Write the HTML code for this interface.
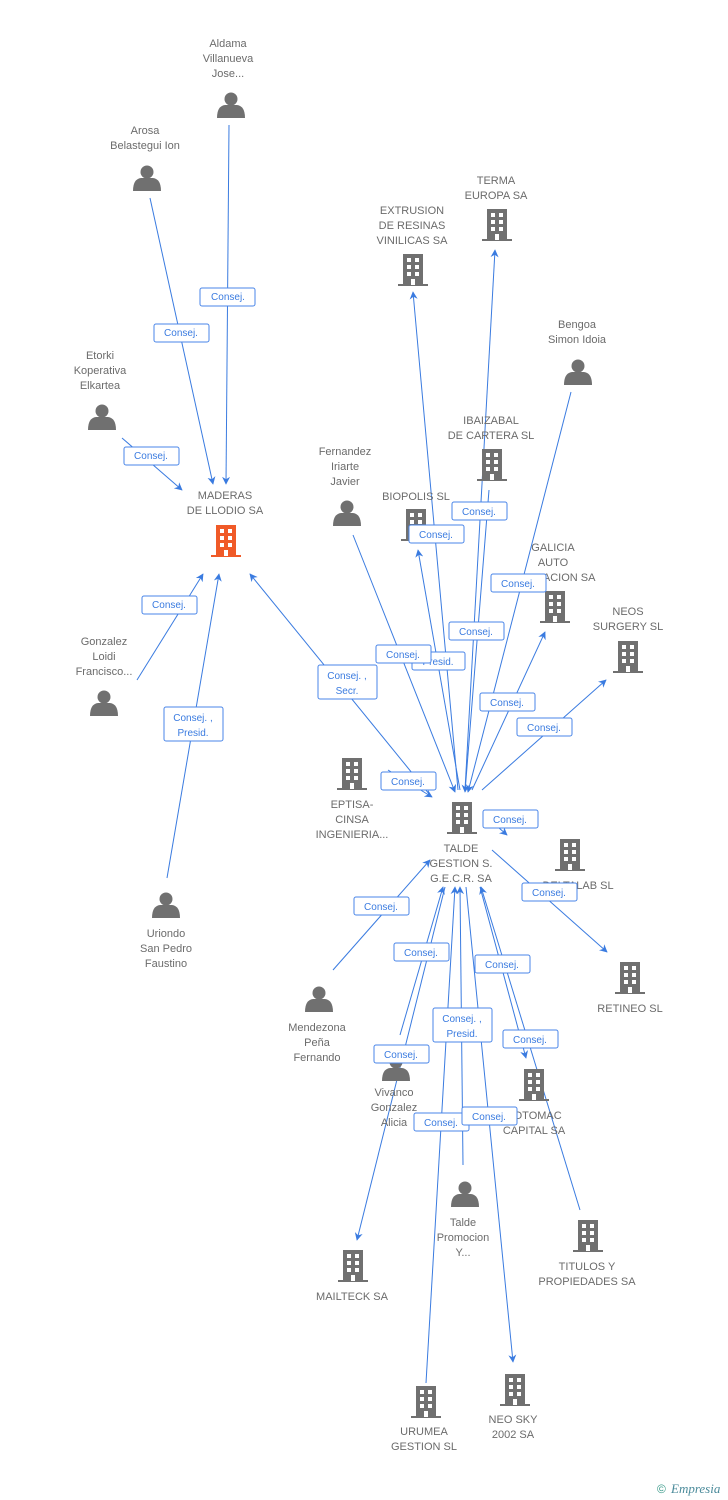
<!DOCTYPE html>
<html><head><meta charset="utf-8"><style>
html,body{margin:0;padding:0;background:#fff;}
svg{display:block;}
.t{font-family:"Liberation Sans",sans-serif;font-size:11px;fill:#6b6b6b;text-anchor:middle;}
.l{font-family:"Liberation Sans",sans-serif;font-size:10px;fill:#3a7be0;text-anchor:middle;}
.e{stroke:#3a7be0;stroke-width:1;fill:none;}
.b{fill:#fff;stroke:#4a86e8;stroke-width:1;}
</style></head><body>
<svg width="728" height="1500" viewBox="0 0 728 1500" xmlns="http://www.w3.org/2000/svg">
<defs>
<marker id="a" viewBox="0 0 10 10" refX="9" refY="5" markerWidth="8" markerHeight="8" orient="auto"><path d="M0,0 L10,5 L0,10 L3,5z" fill="#3a7be0"/></marker>
<g id="bld"><rect x="-10" y="-16" width="20" height="31" fill="currentColor"/><rect x="-15" y="14" width="30" height="2" fill="currentColor"/>
<g fill="#fff"><rect x="-6" y="-12" width="4" height="4"/><rect x="2" y="-12" width="4" height="4"/><rect x="-6" y="-5" width="4" height="4"/><rect x="2" y="-5" width="4" height="4"/><rect x="-6" y="2" width="4" height="4"/><rect x="2" y="2" width="4" height="4"/><rect x="-2" y="9" width="4" height="6"/></g></g>
<g id="per" fill="#707070"><circle cx="0" cy="-6" r="6.5"/><path d="M-14,13 Q-14,1 -6,0 L6,0 Q14,1 14,13z"/></g>
</defs>
<g class="e" marker-end="url(#a)">
<line x1="229" y1="125" x2="226" y2="484"/>
<line x1="150" y1="198" x2="213" y2="484"/>
<line x1="122" y1="438" x2="182" y2="490"/>
<line x1="137" y1="680" x2="203" y2="574"/>
<line x1="167" y1="878" x2="219" y2="574"/>
<line x1="430" y1="795" x2="250" y2="574"/>
<line x1="353" y1="535" x2="455" y2="792"/>
<line x1="460" y1="790" x2="418" y2="550"/>
<line x1="458" y1="790" x2="413" y2="292"/>
<line x1="465" y1="790" x2="495" y2="250"/>
<line x1="489" y1="490" x2="465" y2="792"/>
<line x1="571" y1="392" x2="468" y2="792"/>
<line x1="472" y1="790" x2="545" y2="632"/>
<line x1="482" y1="790" x2="606" y2="680"/>
<line x1="388" y1="770" x2="432" y2="797"/>
<line x1="490" y1="820" x2="507" y2="835"/>
<line x1="492" y1="850" x2="607" y2="952"/>
<line x1="333" y1="970" x2="430" y2="860"/>
<line x1="400" y1="1035" x2="443" y2="887"/>
<line x1="445" y1="887" x2="357" y2="1240"/>
<line x1="463" y1="1165" x2="460" y2="887"/>
<line x1="426" y1="1383" x2="455" y2="887"/>
<line x1="466" y1="887" x2="513" y2="1362"/>
<line x1="480" y1="887" x2="526" y2="1058"/>
<line x1="580" y1="1210" x2="481" y2="887"/>
</g>
<g style="color:#707070">
<use href="#bld" x="416" y="525"/><use href="#bld" x="413" y="270"/><use href="#bld" x="497" y="225"/>
<use href="#bld" x="492" y="465"/><use href="#bld" x="555" y="607"/><use href="#bld" x="628" y="657"/>
<use href="#bld" x="352" y="774"/><use href="#bld" x="462" y="818"/><use href="#bld" x="570" y="855"/>
<use href="#bld" x="630" y="978"/><use href="#bld" x="534" y="1085"/><use href="#bld" x="588" y="1236"/>
<use href="#bld" x="353" y="1266"/><use href="#bld" x="426" y="1402"/><use href="#bld" x="515" y="1390"/>
</g>
<use href="#bld" x="226" y="541" style="color:#f05a28"/>
<use href="#per" x="231" y="105"/><use href="#per" x="147" y="178"/><use href="#per" x="102" y="417"/>
<use href="#per" x="104" y="703"/><use href="#per" x="166" y="905"/><use href="#per" x="347" y="513"/>
<use href="#per" x="578" y="372"/><use href="#per" x="319" y="999"/><use href="#per" x="396" y="1068"/>
<use href="#per" x="465" y="1194"/>
<g class="t">
<text x="228" y="47">Aldama</text><text x="228" y="62">Villanueva</text><text x="228" y="77">Jose...</text>
<text x="145" y="134">Arosa</text><text x="145" y="149">Belastegui Ion</text>
<text x="100" y="359">Etorki</text><text x="100" y="374">Koperativa</text><text x="100" y="389">Elkartea</text>
<text x="225" y="499">MADERAS</text><text x="225" y="514">DE LLODIO SA</text>
<text x="104" y="645">Gonzalez</text><text x="104" y="660">Loidi</text><text x="104" y="675">Francisco...</text>
<text x="166" y="937">Uriondo</text><text x="166" y="952">San Pedro</text><text x="166" y="967">Faustino</text>
<text x="345" y="455">Fernandez</text><text x="345" y="470">Iriarte</text><text x="345" y="485">Javier</text>
<text x="416" y="500">BIOPOLIS SL</text>
<text x="412" y="214">EXTRUSION</text><text x="412" y="229">DE RESINAS</text><text x="412" y="244">VINILICAS SA</text>
<text x="496" y="184">TERMA</text><text x="496" y="199">EUROPA SA</text>
<text x="577" y="328">Bengoa</text><text x="577" y="343">Simon Idoia</text>
<text x="491" y="424">IBAIZABAL</text><text x="491" y="439">DE CARTERA SL</text>
<text x="553" y="551">GALICIA</text><text x="553" y="566">AUTO</text><text x="553" y="581">FORMACION SA</text>
<text x="628" y="615">NEOS</text><text x="628" y="630">SURGERY SL</text>
<text x="352" y="808">EPTISA-</text><text x="352" y="823">CINSA</text><text x="352" y="838">INGENIERIA...</text>
<text x="461" y="852">TALDE</text><text x="461" y="867">GESTION S.</text><text x="461" y="882">G.E.C.R. SA</text>
<text x="578" y="889">DELTALAB SL</text>
<text x="630" y="1012">RETINEO SL</text>
<text x="317" y="1031">Mendezona</text><text x="317" y="1046">Peña</text><text x="317" y="1061">Fernando</text>
<text x="394" y="1096">Vivanco</text><text x="394" y="1111">Gonzalez</text><text x="394" y="1126">Alicia</text>
<text x="534" y="1119">POTOMAC</text><text x="534" y="1134">CAPITAL SA</text>
<text x="463" y="1226">Talde</text><text x="463" y="1241">Promocion</text><text x="463" y="1256">Y...</text>
<text x="587" y="1270">TITULOS Y</text><text x="587" y="1285">PROPIEDADES SA</text>
<text x="352" y="1300">MAILTECK SA</text>
<text x="424" y="1435">URUMEA</text><text x="424" y="1450">GESTION SL</text>
<text x="513" y="1423">NEO SKY</text><text x="513" y="1438">2002 SA</text>
</g>
<g>
<rect class="b" x="200" y="288" width="55" height="18" rx="2"/><text class="l" x="228" y="300">Consej.</text>
<rect class="b" x="154" y="324" width="55" height="18" rx="2"/><text class="l" x="181" y="336">Consej.</text>
<rect class="b" x="124" y="447" width="55" height="18" rx="2"/><text class="l" x="151" y="459">Consej.</text>
<rect class="b" x="142" y="596" width="55" height="18" rx="2"/><text class="l" x="169" y="608">Consej.</text>
<rect class="b" x="164" y="707" width="59" height="34" rx="2"/><text class="l" x="193" y="721">Consej. ,</text><text class="l" x="193" y="736">Presid.</text>
<rect class="b" x="318" y="665" width="59" height="34" rx="2"/><text class="l" x="347" y="679">Consej. ,</text><text class="l" x="347" y="694">Secr.</text>
<rect class="b" x="452" y="502" width="55" height="18" rx="2"/><text class="l" x="479" y="515">Consej.</text>
<rect class="b" x="409" y="525" width="55" height="18" rx="2"/><text class="l" x="436" y="538">Consej.</text>
<rect class="b" x="491" y="574" width="55" height="18" rx="2"/><text class="l" x="518" y="587">Consej.</text>
<rect class="b" x="449" y="622" width="55" height="18" rx="2"/><text class="l" x="476" y="635">Consej.</text>
<rect class="b" x="412" y="652" width="53" height="18" rx="2"/><text class="l" x="438" y="665">Presid.</text>
<rect class="b" x="376" y="645" width="55" height="18" rx="2"/><text class="l" x="403" y="658">Consej.</text>
<rect class="b" x="480" y="693" width="55" height="18" rx="2"/><text class="l" x="507" y="706">Consej.</text>
<rect class="b" x="517" y="718" width="55" height="18" rx="2"/><text class="l" x="544" y="731">Consej.</text>
<rect class="b" x="381" y="772" width="55" height="18" rx="2"/><text class="l" x="408" y="785">Consej.</text>
<rect class="b" x="483" y="810" width="55" height="18" rx="2"/><text class="l" x="510" y="823">Consej.</text>
<rect class="b" x="522" y="883" width="55" height="18" rx="2"/><text class="l" x="549" y="896">Consej.</text>
<rect class="b" x="354" y="897" width="55" height="18" rx="2"/><text class="l" x="381" y="910">Consej.</text>
<rect class="b" x="394" y="943" width="55" height="18" rx="2"/><text class="l" x="421" y="956">Consej.</text>
<rect class="b" x="475" y="955" width="55" height="18" rx="2"/><text class="l" x="502" y="968">Consej.</text>
<rect class="b" x="433" y="1008" width="59" height="34" rx="2"/><text class="l" x="462" y="1022">Consej. ,</text><text class="l" x="462" y="1037">Presid.</text>
<rect class="b" x="503" y="1030" width="55" height="18" rx="2"/><text class="l" x="530" y="1043">Consej.</text>
<rect class="b" x="374" y="1045" width="55" height="18" rx="2"/><text class="l" x="401" y="1058">Consej.</text>
<rect class="b" x="414" y="1113" width="55" height="18" rx="2"/><text class="l" x="441" y="1126">Consej.</text>
<rect class="b" x="462" y="1107" width="55" height="18" rx="2"/><text class="l" x="489" y="1120">Consej.</text>
</g>
<text x="657" y="1493" style="font-family:'Liberation Sans',sans-serif;font-size:12px;fill:#3a9a8a">©</text>
<text x="671" y="1493" style="font-family:'Liberation Serif',serif;font-style:italic;font-size:13px;fill:#4a8a9a">Empresia</text>
</svg>
</body></html>
